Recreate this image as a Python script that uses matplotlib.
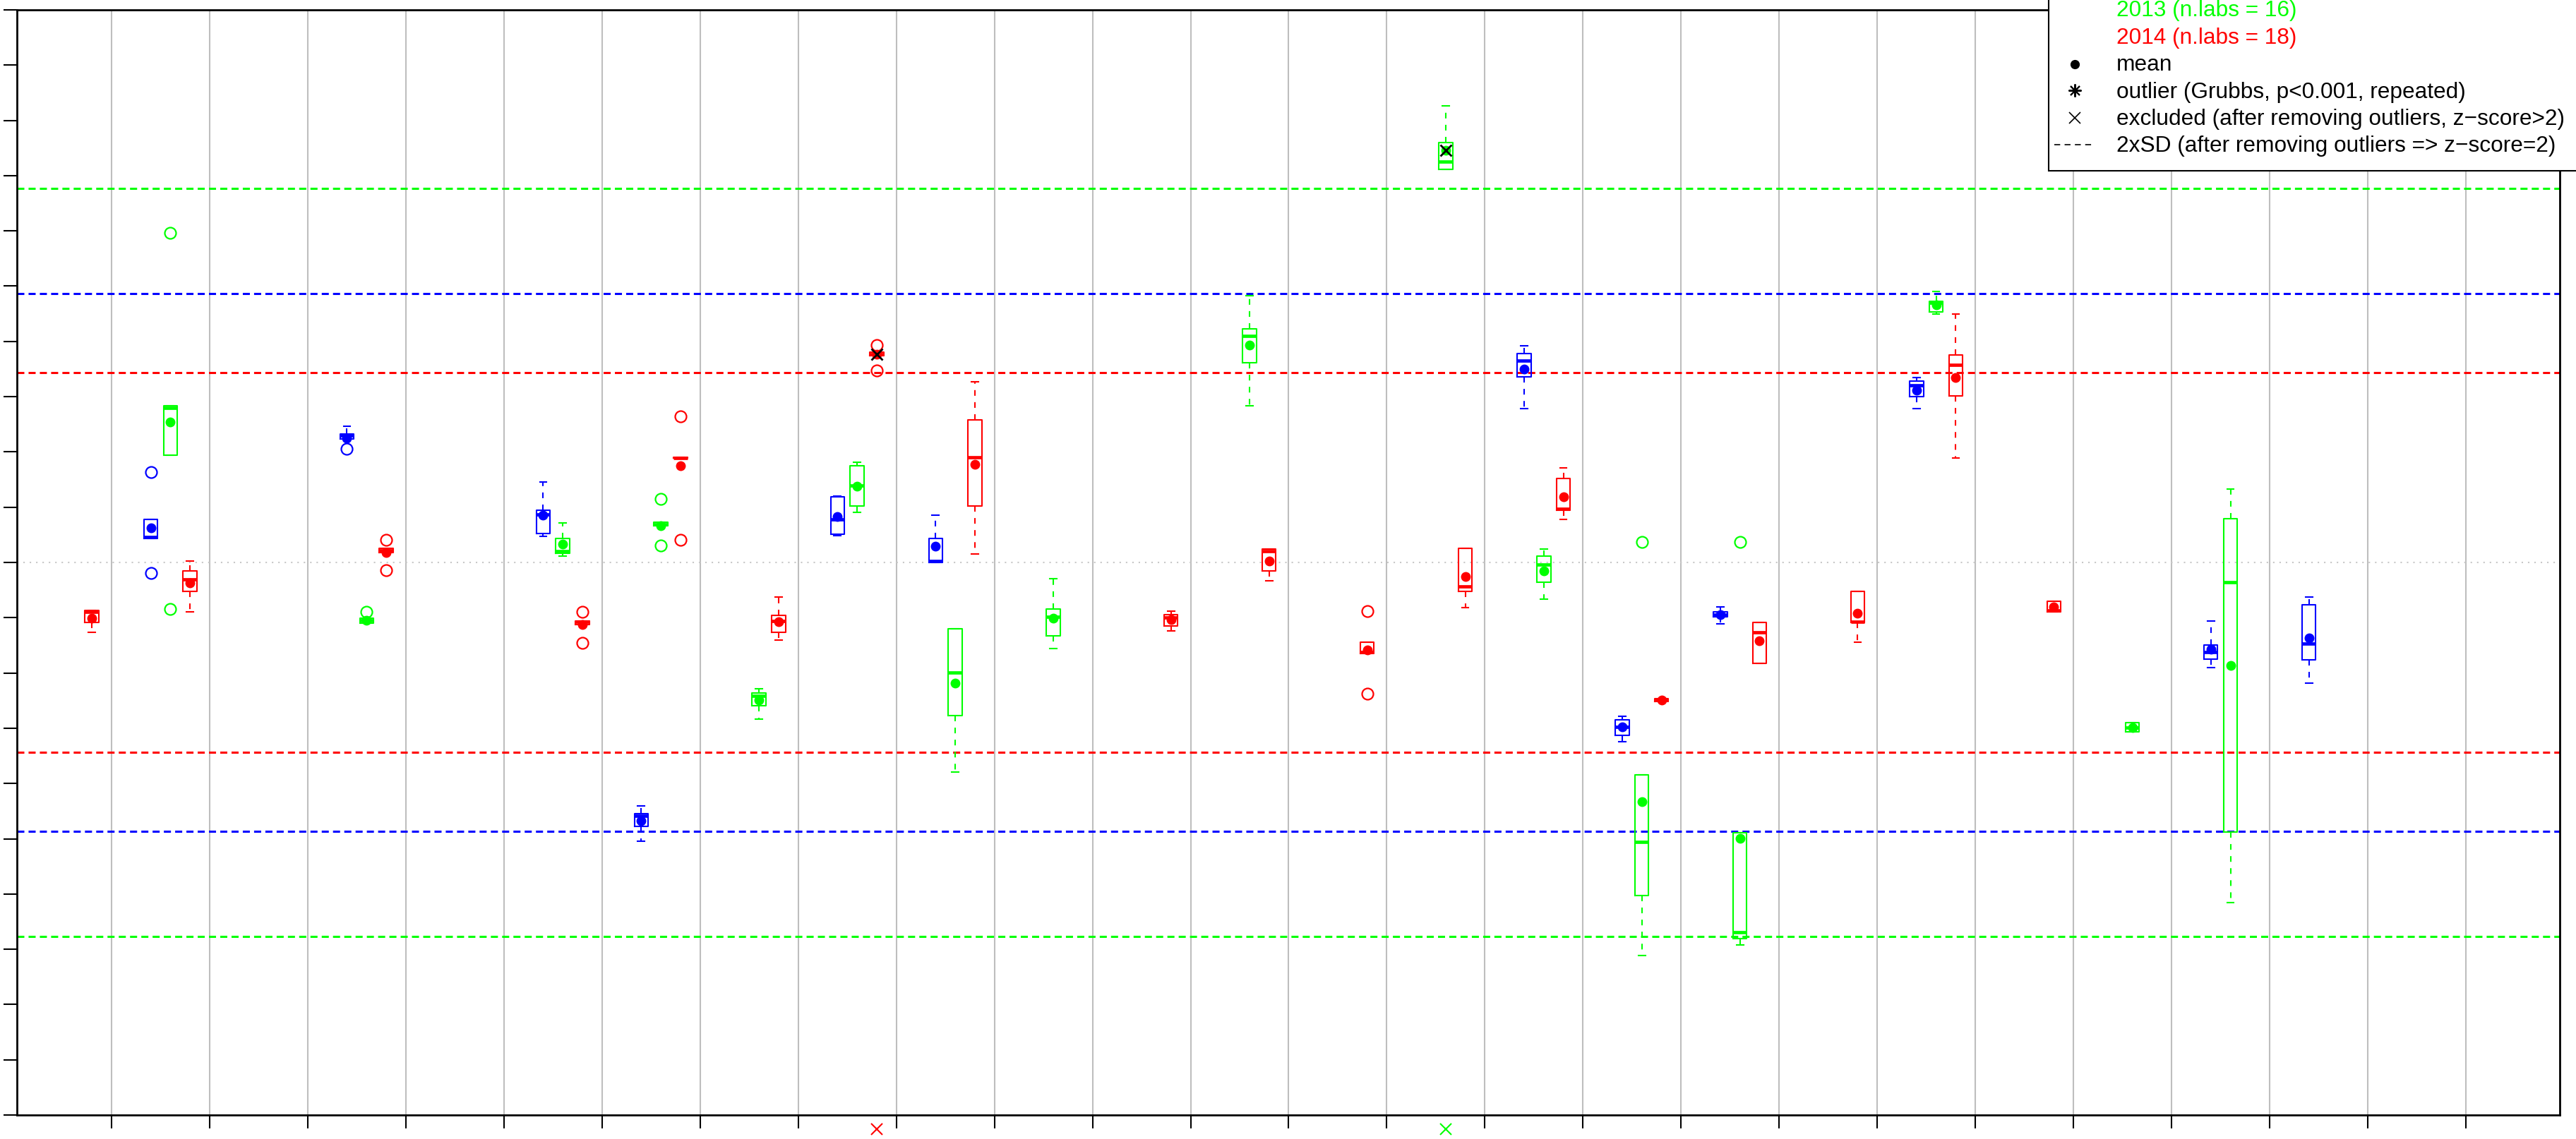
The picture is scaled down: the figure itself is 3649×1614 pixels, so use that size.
import matplotlib
matplotlib.use("Agg")
import matplotlib.pyplot as plt
from matplotlib.lines import Line2D
from matplotlib.patches import Rectangle

plt.rcParams["font.family"] = ["Liberation Sans", "DejaVu Sans"]
plt.rcParams["lines.scale_dashes"] = False

# per lab: (lab, lower whisker, q1, median, q3, upper whisker, mean)
stats_2012 = [
    (1, 0.43, 0.43, 0.46, 0.78, 0.78, 0.62),
    (3, 2.23, 2.23, 2.30, 2.33, 2.46, 2.25),
    (5, 0.47, 0.52, 0.87, 0.95, 1.46, 0.85),
    (6, -5.04, -4.78, -4.59, -4.55, -4.40, -4.67),
    (8, 0.48, 0.51, 0.78, 1.19, 1.20, 0.83),
    (9, 0.00, 0.00, 0.02, 0.44, 0.86, 0.29),
    (15, 2.78, 3.36, 3.65, 3.78, 3.92, 3.50),
    (16, -3.24, -3.13, -2.97, -2.85, -2.78, -2.97),
    (17, -1.11, -0.98, -0.94, -0.89, -0.81, -0.94),
    (19, 2.79, 3.00, 3.21, 3.28, 3.34, 3.11),
    (22, -1.90, -1.75, -1.62, -1.49, -1.06, -1.57),
    (23, -2.19, -1.76, -1.47, -0.77, -0.63, -1.37),
]
stats_2013 = [
    (1, 1.94, 1.94, 2.80, 2.84, 2.84, 2.54),
    (3, -1.10, -1.10, -1.05, -1.01, -1.01, -1.05),
    (5, 0.12, 0.17, 0.21, 0.43, 0.72, 0.33),
    (6, 0.66, 0.66, 0.69, 0.73, 0.73, 0.67),
    (7, -2.83, -2.59, -2.41, -2.36, -2.29, -2.49),
    (8, 0.91, 1.02, 1.39, 1.75, 1.81, 1.38),
    (9, -3.79, -2.77, -1.99, -1.20, -1.20, -2.18),
    (10, -1.56, -1.33, -0.98, -0.84, -0.30, -1.01),
    (12, 2.84, 3.62, 4.10, 4.23, 4.83, 3.93),
    (14, 7.11, 7.11, 7.25, 7.60, 8.26, 7.46),
    (15, -0.66, -0.36, -0.04, 0.12, 0.24, -0.15),
    (16, -7.11, -6.03, -5.06, -3.85, -3.85, -4.33),
    (17, -6.92, -6.81, -6.69, -4.89, -4.89, -4.99),
    (19, 4.49, 4.54, 4.70, 4.73, 4.90, 4.66),
    (21, -3.07, -3.07, -2.99, -2.90, -2.90, -2.99),
    (22, -6.15, -4.88, -0.36, 0.79, 1.33, -1.86),
]
stats_2014 = [
    (0, -1.26, -1.09, -0.89, -0.87, -0.87, -1.01),
    (1, -0.90, -0.52, -0.31, -0.15, 0.03, -0.37),
    (3, 0.18, 0.18, 0.22, 0.25, 0.25, 0.18),
    (5, -1.12, -1.12, -1.07, -1.06, -1.06, -1.12),
    (6, 1.89, 1.89, 1.89, 1.90, 1.90, 1.75),
    (7, -1.40, -1.27, -1.06, -0.96, -0.62, -1.07),
    (8, 3.72, 3.74, 3.77, 3.80, 3.80, 3.77),
    (9, 0.15, 1.02, 1.90, 2.58, 3.27, 1.77),
    (11, -1.24, -1.15, -0.99, -0.95, -0.88, -1.04),
    (12, -0.33, -0.15, 0.21, 0.24, 0.24, 0.03),
    (13, -1.65, -1.65, -1.62, -1.44, -1.44, -1.58),
    (14, -0.82, -0.52, -0.43, 0.26, 0.26, -0.25),
    (15, 0.78, 0.95, 0.97, 1.52, 1.71, 1.19),
    (16, -2.51, -2.51, -2.49, -2.47, -2.47, -2.49),
    (17, -1.83, -1.83, -1.27, -1.08, -1.08, -1.42),
    (18, -1.44, -1.09, -1.07, -0.52, -0.52, -0.92),
    (19, 1.89, 3.01, 3.58, 3.75, 4.49, 3.35),
    (20, -0.90, -0.90, -0.87, -0.70, -0.70, -0.80),
]

# single values outside the whiskers: (lab, value)
fliers_2012 = [(1, 1.64), (1, -0.19), (3, 2.05)]
fliers_2013 = [(1, 5.97), (1, -0.84), (3, -0.89), (6, 1.15), (6, 0.31),
               (16, 0.37), (17, 0.37)]
fliers_2014 = [(3, 0.41), (3, -0.14), (5, -0.89), (5, -1.46), (6, 2.64),
               (6, 0.41), (8, 3.93), (8, 3.47), (13, -0.88), (13, -2.37)]

# labs whose mean was excluded (z-score > 2)
excluded_2013 = [14]
excluded_2014 = [8]
# excluded values that fall below the plotted range
offscale_2013 = [14]
offscale_2014 = [8]

# 2xSD limits after removing outliers, around the reference value 0
sd2_2012 = 4.86
sd2_2013 = 6.77
sd2_2014 = 3.43

legend_labels = ["2013 (n.labs = 16)", "2014 (n.labs = 18)", "mean",
                 "outlier (Grubbs, p<0.001, repeated)",
                 "excluded (after removing outliers, z\u2212score>2)",
                 "2xSD (after removing outliers => z\u2212score=2)"]

BLUE, GREEN, RED = "#0000FF", "#00FF00", "#FF0000"
series = [
    (stats_2012, fliers_2012, [], [], sd2_2012, BLUE, 0.4),
    (stats_2013, fliers_2013, excluded_2013, offscale_2013, sd2_2013, GREEN, 0.6),
    (stats_2014, fliers_2014, excluded_2014, offscale_2014, sd2_2014, RED, 0.8),
]

W, H = 3649, 1614
fig = plt.figure(figsize=(W / 100, H / 100), dpi=100)
ax = fig.add_axes([24 / W, 34 / H, 3602 / W, 1566 / H])
ax.set_xlim(0.036, 25.957)
ax.set_ylim(-10, 10)

# lab separators and the reference line
for k in range(1, 26):
    ax.axvline(k, color="#BEBEBE", lw=1.5, zorder=0)
ax.axhline(0, color="#C8C8C8", lw=1.5, linestyle=(0, (1.5, 5)), zorder=0)

for stats, fliers, excl, offscale, sd2, col, off in series:
    for y in (sd2, -sd2):
        ax.axhline(y, color=col, lw=2.2, linestyle=(0, (7.2, 4.3)), zorder=1)

    bxp_stats = []
    for lab, wlo, q1, med, q3, whi, mean in stats:
        bxp_stats.append({
            "whislo": wlo, "q1": q1, "med": med, "q3": q3, "whishi": whi,
            "mean": mean,
            "fliers": [v for l, v in fliers if l == lab],
        })
    pos = [s[0] + off for s in stats]
    ax.bxp(bxp_stats, positions=pos, widths=0.14, capwidths=0.07,
           showmeans=True, manage_ticks=False,
           boxprops=dict(color=col, lw=1.5),
           whiskerprops=dict(color=col, lw=1.5, linestyle=(0, (5.8, 6.5))),
           capprops=dict(color=col, lw=1.5),
           medianprops=dict(color=col, lw=3.4, solid_capstyle="butt"),
           meanprops=dict(marker="o", markerfacecolor=col,
                          markeredgecolor=col, markersize=9),
           flierprops=dict(marker="o", markerfacecolor="none",
                           markeredgecolor=col, markersize=11.5,
                           markeredgewidth=1.6),
           zorder=3)

    means = {s[0]: s[6] for s in stats}
    for lab in excl:
        ax.plot(lab + off, means[lab], marker="x", color="black",
                markersize=11, mew=2, zorder=4)
    for lab in offscale:
        ax.plot(lab + off, -10.26, marker="x", color=col, markersize=12,
                mew=1.5, clip_on=False, zorder=4)

ax.set_xticks(range(1, 26))
ax.set_yticks(range(-10, 11))
ax.set_xticklabels([])
ax.set_yticklabels([])
ax.tick_params(length=14, width=1.5, direction="out")
for sp in ax.spines.values():
    sp.set_linewidth(2)


def fx(x):
    return x / W


def fy(y):
    return 1 - y / H


# legend box, partly running off the top and right edge
fig.add_artist(Rectangle((fx(2902), fy(242)), fx(3700) - fx(2902),
                         fy(-30) - fy(242), transform=fig.transFigure,
                         facecolor="white", edgecolor="black", lw=1.5,
                         zorder=10, clip_on=False))
text_colors = [GREEN, RED, "black", "black", "black", "black"]
for i, (txt, tc) in enumerate(zip(legend_labels, text_colors)):
    fig.text(fx(2998), fy(23.3 + 38.4 * i), txt, color=tc, fontsize=22.8,
             ha="left", va="baseline", zorder=11)

sym_x = fx(2939)
fig.add_artist(Line2D([sym_x], [fy(91)], marker="o", color="black",
                      markersize=8.5, linestyle="none",
                      transform=fig.transFigure, zorder=11))
fig.add_artist(Line2D([sym_x], [fy(128)], marker=(8, 2, 0), color="black",
                      markersize=13, mew=1.5, linestyle="none",
                      transform=fig.transFigure, zorder=11))
fig.add_artist(Line2D([sym_x], [fy(167)], marker="x", color="black",
                      markersize=11, mew=1.2, linestyle="none",
                      transform=fig.transFigure, zorder=11))
fig.add_artist(Line2D([fx(2910), fx(2968)], [fy(205), fy(205)],
                      color="black", lw=1.2, linestyle=(0, (6, 4.5)),
                      transform=fig.transFigure, zorder=11))

fig.savefig("out.png", dpi=100)
